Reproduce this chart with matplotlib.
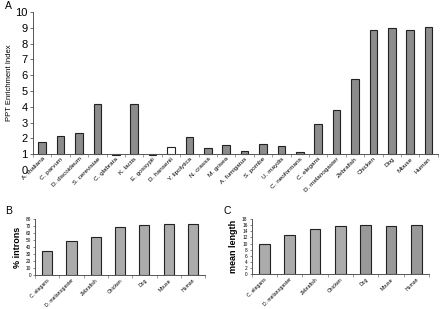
import numpy as np
import matplotlib
matplotlib.use("Agg")
import matplotlib.pyplot as plt

plt.rcParams['font.family'] = ['Liberation Sans', 'DejaVu Sans']

# panel A data
species_a = ["A. thaliana", "C. parvum", "D. discoideum", "S. cerevisiae", "C. glabrata",
             "K. lactis", "E. gossypii", "D. hansenii", "Y. lipolytica", "N. crassa",
             "M. grisea", "A. fumigatus", "S. pombe", "U. maydis", "C. neoformans",
             "C. elegans", "D. melanogaster", "Zebrafish", "Chicken", "Dog", "Mouse", "Human"]
ppt_index = [1.8, 2.15, 2.35, 4.2, 0.92, 4.15, 0.92, 1.45, 2.1, 1.37,
             1.6, 1.23, 1.65, 1.5, 1.15, 2.9, 3.8, 5.75, 8.85, 8.97, 8.87, 9.08]

# panels B and C data
species_bc = ["C. elegans", "D. melanogaster", "Zebrafish", "Chicken", "Dog", "Mouse", "Human"]
pct_introns = [35, 48, 54, 68, 71, 73, 73]
mean_length = [9.9, 12.7, 14.9, 15.8, 16.1, 15.8, 16.0]

fig = plt.figure(figsize=(4.4, 3.09), dpi=100)
edge = "#222222"

# ---- panel A ----
axA = fig.add_axes([0.075, 0.450, 0.920, 0.511])
x = np.arange(len(species_a))
heights = [v - 1 for v in ppt_index]
colsA = ["#8c8c8c"] * len(species_a)
colsA[species_a.index("D. hansenii")] = "white"
axA.bar(x, heights, bottom=1, width=0.42, color=colsA, edgecolor=edge, linewidth=0.8)
axA.set_xlim(-0.5, len(species_a) - 0.5)
axA.set_ylim(0, 10)
axA.spines['top'].set_visible(False)
axA.spines['right'].set_visible(False)
axA.spines['bottom'].set_position(('data', 1))
axA.spines['left'].set_bounds(1, 10)
for s in ['bottom', 'left']:
    axA.spines[s].set_color("#555555")
    axA.spines[s].set_linewidth(0.7)
axA.set_yticks(range(0, 11))
axA.tick_params(axis='y', labelsize=8, length=2, width=0.6, pad=2, color="#555555")
axA.yaxis.get_major_ticks()[0].tick1line.set_visible(False)
axA.set_xticks(x)
axA.set_xticklabels(species_a, rotation=45, ha='right', rotation_mode='anchor', fontsize=4.6)
axA.tick_params(axis='x', length=0, pad=1.5)
axA.set_xticks(np.arange(len(species_a) + 1) - 0.5, minor=True)
axA.tick_params(axis='x', which='minor', length=2, width=0.5, color="#777777")
axA.set_ylabel("PPT Enrichment Index", fontsize=5.5, labelpad=4)
axA.yaxis.set_label_coords(-0.05, 0.55)

# ---- panel B ----
axB = fig.add_axes([0.080, 0.110, 0.386, 0.181])
xb = np.arange(len(species_bc))
axB.bar(xb, pct_introns, width=0.42, color="#ababab", edgecolor=edge, linewidth=0.8)
axB.set_xlim(-0.5, len(species_bc) - 0.5)
axB.set_ylim(0, 80)
axB.set_yticks(range(0, 81, 10))
axB.set_ylabel("% introns", fontsize=6.5, fontweight='bold', labelpad=3)

# ---- panel C ----
axC = fig.add_axes([0.572, 0.113, 0.403, 0.178])
colsC = ["#ababab"] * 4 + ["#999999"] * 3
axC.bar(xb, mean_length, width=0.42, color=colsC, edgecolor=edge, linewidth=0.8)
axC.set_xlim(-0.5, len(species_bc) - 0.5)
axC.set_ylim(0, 18)
axC.set_yticks(range(0, 19, 2))
axC.set_ylabel("mean length", fontsize=6.5, fontweight='bold', labelpad=3)

for ax in [axB, axC]:
    ax.spines['top'].set_visible(False)
    ax.spines['right'].set_visible(False)
    for s in ['bottom', 'left']:
        ax.spines[s].set_color("#555555")
        ax.spines[s].set_linewidth(0.7)
    ax.tick_params(axis='y', labelsize=3.4, length=1.5, width=0.5, pad=1.5, color="#555555")
    ax.set_xticks(xb)
    ax.set_xticklabels(species_bc, rotation=45, ha='right', rotation_mode='anchor', fontsize=3.7)
    ax.tick_params(axis='x', length=0, pad=2)
    ax.set_xticks(np.arange(len(species_bc) + 1) - 0.5, minor=True)
    ax.tick_params(axis='x', which='minor', length=2, width=0.5, color="#777777")

fig.text(5 / 440, 1 - 6 / 309, "A", fontsize=7.5, va='center', ha='left')
fig.text(5 / 440, 1 - 211 / 309, "B", fontsize=7.5, va='center', ha='left')
fig.text(224 / 440, 1 - 211 / 309, "C", fontsize=7.5, va='center', ha='left')

fig.savefig("out.png", dpi=100)
